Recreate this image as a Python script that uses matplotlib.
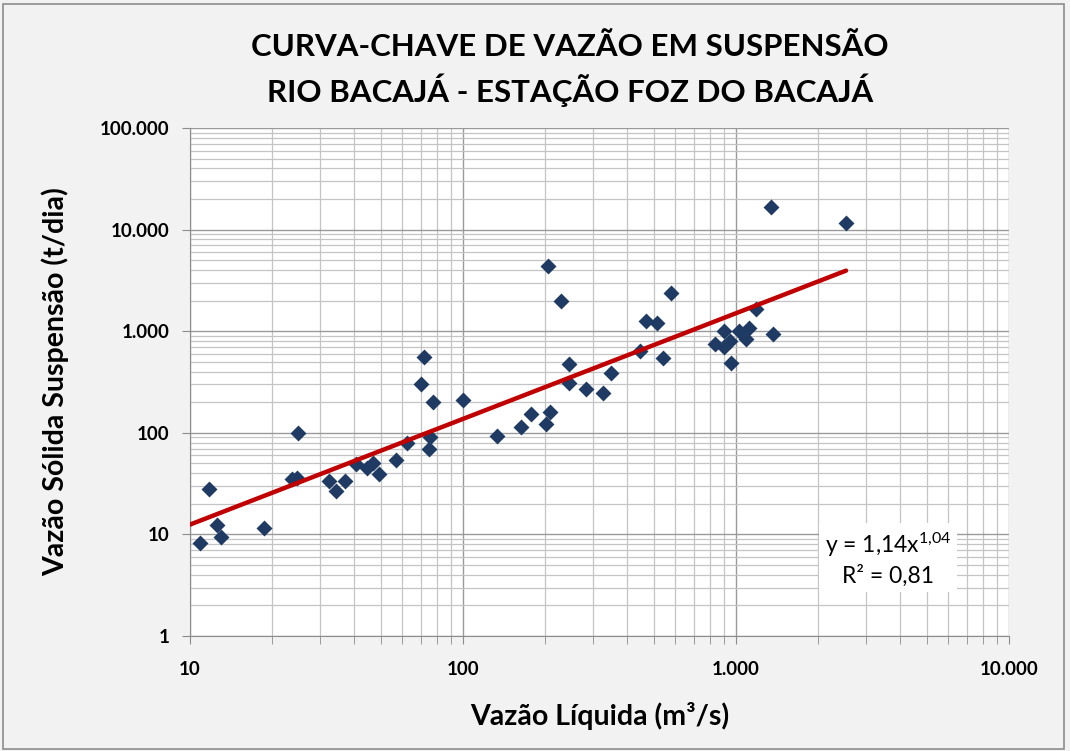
import matplotlib.pyplot as plt
import numpy as np
from matplotlib.patches import Rectangle
from matplotlib.ticker import FixedLocator, LogLocator, NullFormatter

# vazão líquida (m3/s) x vazão sólida em suspensão (t/dia)
q_liq = [10.9, 11.7, 12.6, 12.96, 18.6, 23.6, 24.6, 24.8, 32.4, 34.3,
         36.8, 40.4, 44.5, 46.8, 49.1, 56.9, 62.5, 70, 72, 77.6,
         74.9, 75.9, 100, 133, 163, 177.5, 202, 208, 204, 229,
         244, 245, 283, 326, 348, 446, 468, 513, 539, 579,
         835, 901, 901, 953, 958, 1029, 1091, 1119, 1183, 1340,
         1362, 2529]
q_sol = [8.2, 28.2, 12.3, 9.5, 11.6, 34.9, 36.1, 100, 33.8, 26.9,
         33.5, 49, 45.4, 50.8, 39.3, 54, 80, 300, 553, 200,
         70, 90, 210, 92, 113, 153, 122, 159, 4413, 1995,
         472, 311, 268, 245, 391, 638, 1270, 1213, 541, 2393,
         748, 1011, 704, 807, 490, 1011, 838, 1083, 1643, 16810,
         932, 11530]

# curva ajustada y = a * x^b
coef_a = 1.14
coef_b = 1.04
r2 = 0.81

x_ticks = [10, 100, 1000, 10000]
x_labels = ["10", "100", "1.000", "10.000"]
y_ticks = [1, 10, 100, 1000, 10000, 100000]
y_labels = ["1", "10", "100", "1.000", "10.000", "100.000"]

FONT = ["Lato", "DejaVu Sans"]
plt.rcParams["font.family"] = FONT
plt.rcParams["mathtext.fontset"] = "custom"
plt.rcParams["mathtext.rm"] = "Lato"
plt.rcParams["mathtext.default"] = "regular"

fig = plt.figure(figsize=(10.7, 7.51), dpi=100, facecolor="#f2f2f2")
fig.patches.append(Rectangle((0.003, 0.003), 0.991, 0.992, transform=fig.transFigure,
                             fill=False, edgecolor="#8c8c8c", linewidth=1.2))
ax = fig.add_axes([0.1776, 0.1531, 0.7654, 0.6765])
ax.set_facecolor("white")

ax.set_xscale("log")
ax.set_yscale("log")
ax.set_xlim(10, 10000)
ax.set_ylim(1, 100000)

ax.xaxis.set_major_locator(FixedLocator(x_ticks))
ax.set_xticklabels(x_labels)
ax.yaxis.set_major_locator(FixedLocator(y_ticks))
ax.set_yticklabels(y_labels)
ax.xaxis.set_minor_locator(LogLocator(base=10, subs=np.arange(2, 10)))
ax.yaxis.set_minor_locator(LogLocator(base=10, subs=np.arange(2, 10)))
ax.xaxis.set_minor_formatter(NullFormatter())
ax.yaxis.set_minor_formatter(NullFormatter())

ax.grid(True, which="major", color="#9a9a9a", linewidth=1.0)
ax.grid(True, which="minor", color="#c4c4c4", linewidth=0.9)
ax.set_axisbelow(True)
for side in ["top", "right"]:
    ax.spines[side].set_visible(False)
for side in ["left", "bottom"]:
    ax.spines[side].set_color("#8c8c8c")

ax.tick_params(axis="x", which="both", direction="out", length=6, color="#8c8c8c", pad=12)
ax.tick_params(axis="y", which="major", direction="out", length=6, color="#8c8c8c", pad=9)
ax.tick_params(axis="y", which="minor", length=0)
for lab in ax.get_xticklabels() + ax.get_yticklabels():
    lab.set_fontsize(13.5)
    lab.set_fontweight("bold")

ax.scatter(q_liq, q_sol, marker="D", s=66, color="#1f3b63", zorder=3, linewidths=0)

xf = np.array([10, max(q_liq)])
ax.plot(xf, coef_a * xf ** coef_b, color="#c00000", linewidth=3.2, zorder=4,
        solid_capstyle="round")

eq = "y = 1,14x$^{1{,}04}$\nR² = 0,81"
ax.text(0.852, 0.152, eq, transform=ax.transAxes, ha="center", va="center",
        fontsize=16.5, linespacing=1.3,
        bbox=dict(facecolor="white", edgecolor="none", pad=4), zorder=5)

fig.text(0.533, 0.938, "CURVA-CHAVE DE VAZÃO EM SUSPENSÃO", ha="center", va="center",
         fontsize=22.5, fontweight="bold")
fig.text(0.533, 0.880, "RIO BACAJÁ - ESTAÇÃO FOZ DO BACAJÁ", ha="center", va="center",
         fontsize=22.5, fontweight="bold")
ax.set_xlabel("Vazão Líquida (m³/s)", fontsize=20.5, fontweight="bold", labelpad=17)
ax.set_ylabel("Vazão Sólida Suspensão (t/dia)", fontsize=20.5, fontweight="bold", labelpad=22)

fig.savefig("out.png", dpi=100, facecolor=fig.get_facecolor())
